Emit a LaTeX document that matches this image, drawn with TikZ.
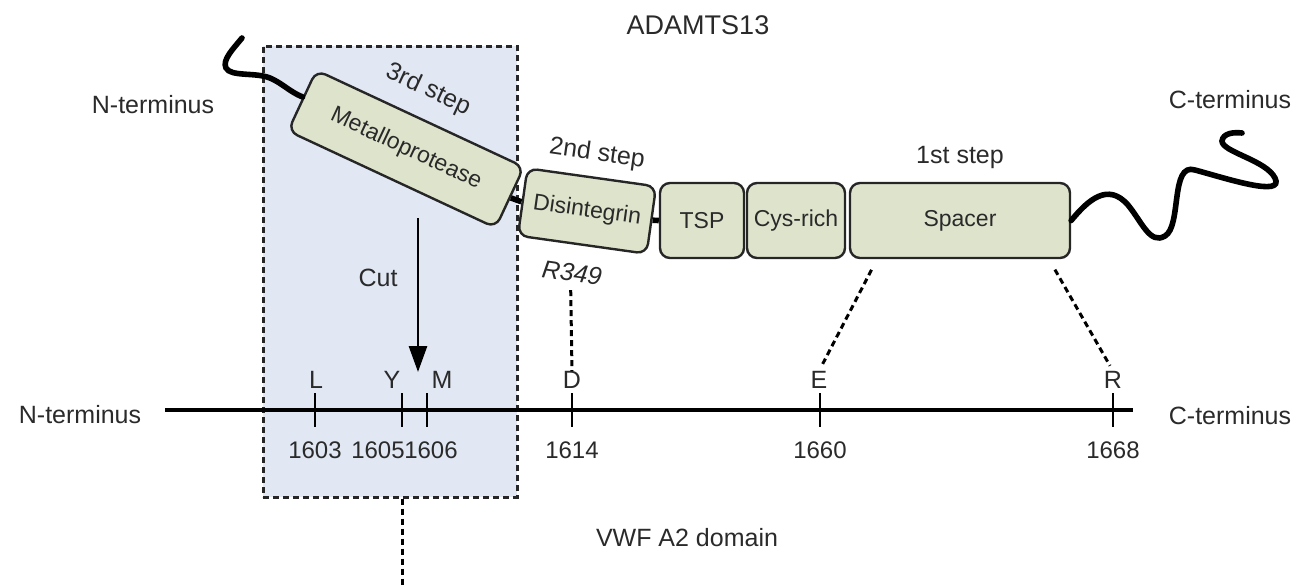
\documentclass[tikz,border=0pt]{standalone}
\usepackage{fontspec}
\setmainfont{Liberation Sans}
\usetikzlibrary{arrows.meta,calc}
\definecolor{boxfill}{HTML}{DEE4CC}
\definecolor{regionfill}{HTML}{E1E8F4}
\definecolor{txt}{HTML}{2A2A2A}
\begin{document}
\begin{tikzpicture}[x=0.5pt,y=-0.5pt,
  dombox/.style={draw=black!85, line width=1.2pt, fill=boxfill, rounded corners=5pt, inner sep=0pt, text=txt, font=\fontsize{11.5}{13}\selectfont},
  lbl/.style={text=txt, font=\fontsize{12.5}{15}\selectfont, inner sep=0pt},
  numlbl/.style={text=txt, font=\fontsize{12}{14}\selectfont, inner sep=0pt},
  dline/.style={line width=1.5pt, dash pattern=on 3pt off 2pt},
  tickmark/.style={line width=1.4pt},
  squig/.style={line width=2.8pt, line cap=round},
  joint/.style={line width=2.8pt}]
\useasboundingbox (0,0) rectangle (1298,586);
% highlighted region
\node[draw=black!85, dline, fill=regionfill, minimum width=127pt, minimum height=225.5pt, inner sep=0pt] (region) at (390,271.5) {};
% title
\node[lbl, font=\fontsize{13.5}{16}\selectfont] (title) at (698,25) {ADAMTS13};
\node[lbl] (nterm1) at (153,105) {N-terminus};
\node[lbl] (cterm1) at (1230,100) {C-terminus};
% domains
\node[dombox, minimum width=114.5pt, minimum height=33.5pt, rotate=-25] (metal) at (406,149) {Metalloprotease};
\node[dombox, minimum width=65pt, minimum height=34pt, rotate=-8] (disin) at (587,211) {Disintegrin};
\node[dombox, minimum width=42pt, minimum height=37.5pt] (tsp) at (702,220.5) {TSP};
\node[dombox, minimum width=49pt, minimum height=37.5pt] (cys) at (796,220.5) {Cys-rich};
\node[dombox, minimum width=110pt, minimum height=37.5pt] (spacer) at (960,220.5) {Spacer};
% step labels
\node[lbl, rotate=-25] (s3) at (428,90) {3rd step};
\node[lbl, rotate=-8] (s2) at (597,154) {2nd step};
\node[lbl] (s1) at (960,157) {1st step};
\node[lbl, rotate=-8, font=\fontsize{12.5}{15}\selectfont\itshape] (r349) at (572,273) {R349};
% joints
\draw[joint] (metal.east) -- (disin.west);
\draw[joint] (disin.east) -- (tsp.west);
% termini squiggles
\coordinate (nstart) at (242,38);
\draw[squig] (nstart) .. controls (233,49) and (222,60) .. (226,68)
  .. controls (231,77) and (255,72) .. (270,78)
  .. controls (282,83) and (290,92) .. ($(metal.north west)!0.45!(metal.south west)$);
\coordinate (cend) at (1242,133);
\draw[squig] (spacer.east) .. controls (1088,200) and (1108,182) .. (1128,205)
  .. controls (1142,222) and (1150,245) .. (1165,236)
  .. controls (1182,226) and (1170,162) .. (1195,170)
  .. controls (1225,178) and (1285,198) .. (1275,178)
  .. controls (1266,160) and (1222,152) .. (1222,141)
  .. controls (1223,133) and (1234,132) .. (cend);
% cut arrow
\node[lbl] (cut) at (378,278) {Cut};
\coordinate (cuttop) at (418,218);
\coordinate (cutend) at (418,372);
\draw[line width=1.4pt, -{Triangle[length=13pt,width=9pt]}] (cuttop) -- (cutend);
% axis
\coordinate (axL) at (165,410);
\coordinate (axR) at (1133,410);
\draw[line width=1.6pt] (axL) -- (axR);
\foreach \n/\x in {a/315,b/402,c/427,d/572,e/820,f/1113}{
  \coordinate (t\n) at (\x,410);
  \draw[tickmark] ($(t\n)+(0,-17)$) -- ($(t\n)+(0,17)$);
}
% residue letters
\node[lbl] (Ll) at (316,380) {L};
\node[lbl] (Yl) at (392,380) {Y};
\node[lbl] (Ml) at (442,380) {M};
\node[lbl] (Dl) at (572,380) {D};
\node[lbl] (El) at (819,380) {E};
\node[lbl] (Rl) at (1113,380) {R};
% numbers
\node[numlbl] (n1603) at (315,450) {1603};
\node[numlbl] (n1605) at (378,450) {1605};
\node[numlbl] (n1606) at (431,450) {1606};
\node[numlbl] (n1614) at (572,450) {1614};
\node[numlbl] (n1660) at (820,450) {1660};
\node[numlbl] (n1668) at (1113,450) {1668};
\node[lbl] (nterm2) at (80,415) {N-terminus};
\node[lbl] (cterm2) at (1230,416) {C-terminus};
\node[lbl] (vwf) at (687,538) {VWF A2 domain};
% dashed connectors
\draw[dline] (r349.south) ++(0,8) -- (Dl.north);
\draw[dline, shorten <=6pt, shorten >=3pt] ($(spacer.south west)!0.127!(spacer.south east)$) -- (El.north);
\draw[dline, shorten <=6pt, shorten >=3pt] ($(spacer.south west)!0.9!(spacer.south east)$) -- (Rl.north);
\coordinate (vend) at (402,586);
\draw[dline] (region.south -| tb) -- (vend);
\end{tikzpicture}
\end{document}
